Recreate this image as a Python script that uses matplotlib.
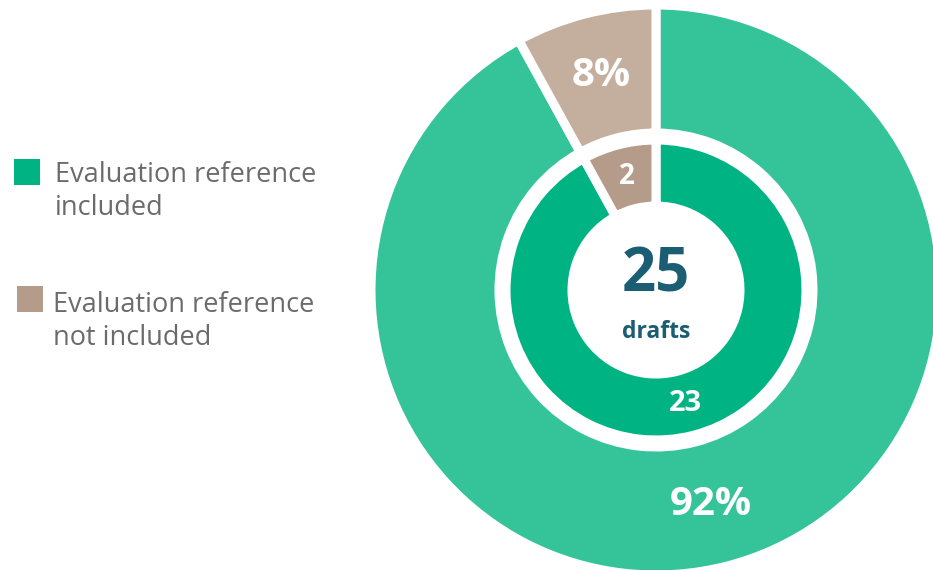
import matplotlib
matplotlib.use("Agg")
import matplotlib.pyplot as plt

categories = ["Evaluation reference\nincluded", "Evaluation reference\nnot included"]
counts = [23, 2]
percent = [92, 8]
center_label = "drafts"

outer_colors = ["#35C49A", "#C4AF9F"]
inner_colors = ["#00B383", "#B59C8A"]
legend_colors = ["#00B383", "#B59C8A"]
text_dark = "#1B5E73"
legend_text = "#6B6B6B"

W, H = 933, 570
fig = plt.figure(figsize=(W / 100, H / 100), dpi=100)
ax = fig.add_axes([0, 0, 1, 1])

cx, cy = 656, H - 290
lw = 6.5
fam = ["Open Sans", "DejaVu Sans"]

pct_iter = iter(percent)
w_out, t_out, a_out = ax.pie(
    counts, colors=outer_colors, startangle=90, counterclock=False,
    radius=285, center=(cx, cy),
    wedgeprops=dict(width=285 - 157, edgecolor="white", linewidth=lw),
    autopct=lambda p: f"{next(pct_iter)}%", pctdistance=0.777,
    textprops=dict(color="white", fontsize=29, fontweight="bold", family=fam),
)

cnt_iter = iter(counts)
w_in, t_in, a_in = ax.pie(
    counts, colors=inner_colors, startangle=90, counterclock=False,
    radius=150, center=(cx, cy),
    wedgeprops=dict(width=150 - 84, edgecolor="white", linewidth=lw),
    autopct=lambda p: f"{next(cnt_iter)}", pctdistance=0.78,
    textprops=dict(color="white", fontsize=20, fontweight="bold", family=fam),
)
a_in[0].set_fontsize(21)

ax.text(cx, H - 276, f"{sum(counts)}", ha="center", va="center", fontsize=43,
        fontweight="bold", color=text_dark, family=fam)
ax.text(cx, H - 332, center_label, ha="center", va="center", fontsize=16.5,
        fontweight="bold", color=text_dark, family=fam)

ax.set_xlim(0, W)
ax.set_ylim(0, H)
ax.set_aspect("equal")
ax.axis("off")

# legend
sq_pos = [(14, 159), (17, 286)]
txt_pos = [(55, 182), (53, 312)]
line_gap = 33
for (sx, sy), (tx, ty), col, lab in zip(sq_pos, txt_pos, legend_colors, categories):
    ax.add_patch(plt.Rectangle((sx, H - sy - 26), 26, 26, color=col, lw=0))
    for i, line in enumerate(lab.split("\n")):
        ax.text(tx, H - ty - i * line_gap, line, ha="left", va="baseline", fontsize=19.5,
                color=legend_text, family=fam)

fig.savefig("out.png", dpi=100, facecolor="white")
